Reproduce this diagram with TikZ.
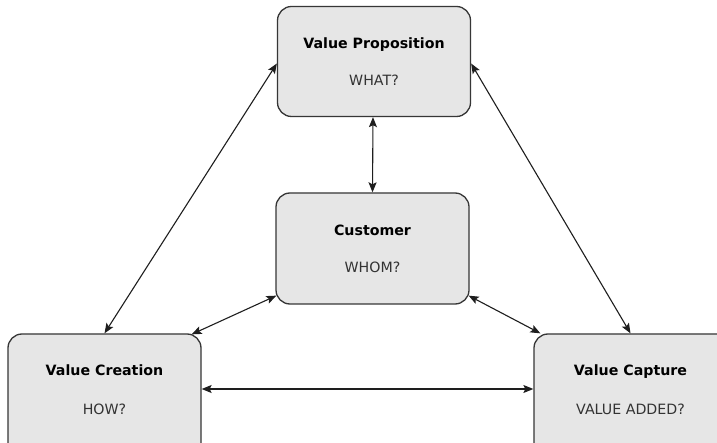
\documentclass[tikz,border=0pt]{standalone}
\usepackage{fontspec}
\setmainfont{DejaVu Sans}
\usetikzlibrary{arrows.meta}
\definecolor{boxfill}{HTML}{E6E6E6}
\definecolor{boxline}{HTML}{363636}
\definecolor{linkline}{HTML}{1E1E1E}
\definecolor{subtxt}{HTML}{333333}
\tikzset{
  card/.style={draw=boxline, line width=1.3pt, fill=boxfill, rounded corners=14pt,
    minimum width=193pt, minimum height=110pt, inner sep=0pt},
  ttl/.style={font=\fontsize{14.2pt}{17pt}\selectfont\bfseries, text=black,
    text height=10.4pt, text depth=0pt, inner sep=0pt},
  sub/.style={font=\fontsize{14.2pt}{17pt}\selectfont, text=subtxt,
    text height=10.4pt, text depth=0pt, inner sep=0pt},
  link/.style={draw=linkline, line width=1.1pt, {Stealth[length=10pt,width=8pt,inset=2pt]}-{Stealth[length=10pt,width=8pt,inset=2pt]}}
}
\begin{document}
\begin{tikzpicture}[x=1pt,y=-1pt]
\useasboundingbox (0,0) rectangle (717,443);
\clip (0,0) rectangle (717,443);
\fill[white] (0,0) rectangle (717,443);
% boxes (bottom row boxes run past the picture's edges)
\node[card] (vp) at (374,61.5) {};
\node[card, minimum height=111pt] (cu) at (372.5,248.5) {};
\node[card, minimum height=130pt] (vc) at (104.5,399) {};
\node[card, minimum width=213pt, minimum height=130pt] (vk) at (640.5,399) {};
% texts
\node[ttl] (vpt) at ([yshift=18.5pt]vp.center) {Value Proposition};
\node[sub] (vps) at ([yshift=-18.5pt]vp.center) {WHAT?};
\node[ttl] (cut) at ([yshift=18.5pt]cu.center) {Customer};
\node[sub] (cus) at ([yshift=-18.5pt]cu.center) {WHOM?};
\node[ttl] (vct) at ([yshift=29pt]vc.center) {Value Creation};
\node[sub] (vcs) at ([yshift=-10pt]vc.center) {HOW?};
\node[ttl] (vkt) at ([xshift=-10pt,yshift=29pt]vk.center) {Value Capture};
\node[sub] (vks) at ([xshift=-10pt,yshift=-10pt]vk.center) {VALUE ADDED?};
% connectors
\draw[link] ([yshift=-2pt]vp.west) -- (vc.north);
\draw[link] ([yshift=-2pt]vp.east) -- ([xshift=-10pt]vk.north);
\draw[link] ([xshift=-1pt]vp.south) -- (cu.north);
\draw[link] ([xshift=1pt,yshift=9pt]cu.south west) -- ([xshift=-10pt,yshift=-1pt]vc.north east);
\draw[link] ([xshift=-1pt,yshift=9pt]cu.south east) -- ([xshift=7pt]vk.north west);
\draw[link] ([yshift=10pt]vc.east) -- ([yshift=10pt]vk.west);
\end{tikzpicture}
\end{document}
